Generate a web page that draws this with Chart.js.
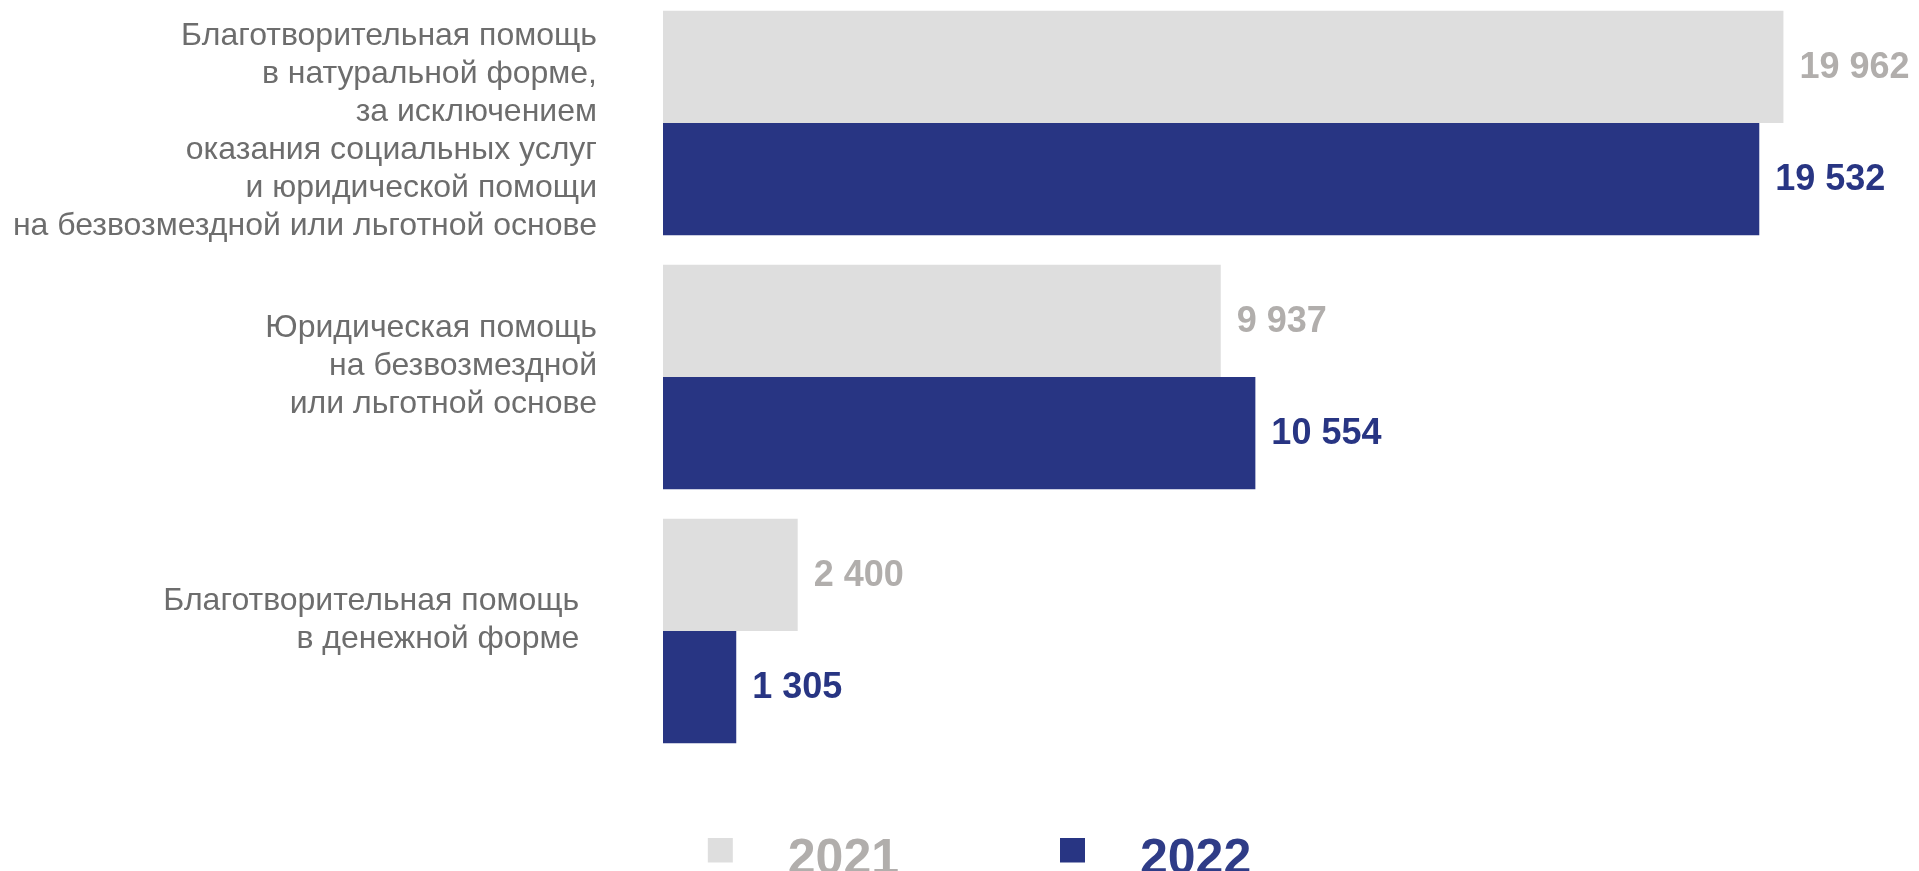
<!DOCTYPE html>
<html lang="ru">
<head>
    <meta charset="UTF-8">
    <title>Благотворительная помощь 2021–2022</title>
    <script src="https://cdn.jsdelivr.net/npm/chart.js@4.4.0/dist/chart.umd.min.js"></script>
    <style>
        html, body{
            margin: 0;
            padding: 0;
            background: #ffffff;
            overflow: hidden;
        }
        .chart-box{
            position: absolute;
            left: 0;
            top: -4px;
            width: 1919px;
            height: 899px;
        }
    </style>
</head>
<body>
    <div class="chart-box">
        <canvas id="chart"></canvas>
    </div>

    <script>
        // categories (multi-line labels, as in the original)
        const categories = [
            ['Благотворительная помощь', 'в натуральной форме,', 'за исключением', 'оказания социальных услуг', 'и юридической помощи', 'на безвозмездной или льготной основе'],
            ['Юридическая помощь', 'на безвозмездной', 'или льготной основе', ''],
            ['Благотворительная помощь\u00a0\u00a0', 'в денежной форме\u00a0\u00a0', '']
        ];
        const years = ['2021', '2022'];
        const values2021 = [19962, 9937, 2400];
        const values2022 = [19532, 10554, 1305];

        const barColors = ['#dedede', '#283583'];
        const valueColors = ['#b1aeac', '#283583'];
        const legendColors = ['#b1aeac', '#2f3c87'];
        const FONT = "'Liberation Sans', Arial, sans-serif";

        function numberWithSpaces(x) {
            return x.toString().replace(/\B(?=(\d{3})+(?!\d))/g, ' ');
        }

        // legend marker: square placed right/up inside a wider transparent box,
        // so its gap to the year text and its height match the original
        function legendMark(color) {
            const c = document.createElement('canvas');
            c.width = 206;
            c.height = 45;
            const g = c.getContext('2d');
            g.fillStyle = color;
            g.fillRect(151, 0, 25, 25);
            return c;
        }
        const marks = barColors.map(legendMark);

        // numbers at the end of each bar
        const valueLabels = {
            id: 'valueLabels',
            afterDatasetsDraw(chart) {
                const ctx = chart.ctx;
                ctx.save();
                ctx.font = 'bold 36px ' + FONT;
                ctx.textBaseline = 'middle';
                ctx.textAlign = 'left';
                chart.data.datasets.forEach((ds, i) => {
                    chart.getDatasetMeta(i).data.forEach((bar, j) => {
                        ctx.fillStyle = valueColors[i];
                        ctx.fillText(numberWithSpaces(ds.data[j]), bar.x + 16, bar.y + 1);
                    });
                });
                ctx.restore();
            }
        };

        const ctx = document.getElementById('chart').getContext('2d');
        const chart = new Chart(ctx, {
            type: 'bar',
            data: {
                labels: categories,
                datasets: [
                    {
                        label: years[0],
                        data: values2021,
                        backgroundColor: barColors[0],
                        borderWidth: 0
                    },
                    {
                        label: years[1],
                        data: values2022,
                        backgroundColor: barColors[1],
                        borderWidth: 0
                    }
                ]
            },
            options: {
                indexAxis: 'y',
                responsive: true,
                maintainAspectRatio: false,
                devicePixelRatio: 1,
                animation: false,
                categoryPercentage: 0.883,
                barPercentage: 1,
                layout: {
                    padding: {left: 0, right: 111, top: 0, bottom: 0}
                },
                scales: {
                    x: {
                        min: 0,
                        max: 20400,
                        grid: {display: false, drawTicks: false},
                        border: {display: false},
                        ticks: {display: false},
                        afterFit: (s) => {
                            s.height = 67;
                            s.paddingLeft = 0;
                            s.paddingRight = 0;
                        }
                    },
                    y: {
                        grid: {display: false, drawTicks: false},
                        border: {display: false},
                        ticks: {
                            autoSkip: false,
                            padding: 66,
                            labelOffset: 8,
                            color: '#6d6d6d',
                            font: {family: FONT, size: 32, lineHeight: 1.19}
                        },
                        afterFit: (s) => {
                            s.width = 663;
                            // labels sit inside their band, no extra room needed above/below
                            s.paddingTop = 0;
                            s.paddingBottom = 0;
                        }
                    }
                },
                plugins: {
                    tooltip: {enabled: false},
                    legend: {
                        position: 'bottom',
                        labels: {
                            usePointStyle: true,
                            pointStyleWidth: 206,
                            padding: 10,
                            font: {family: FONT, size: 50, weight: 'bold'},
                            generateLabels(chart) {
                                const items = Chart.defaults.plugins.legend.labels.generateLabels(chart);
                                items.forEach((it, i) => {
                                    it.fontColor = legendColors[i];
                                    it.pointStyle = marks[i];
                                });
                                return items;
                            }
                        }
                    }
                }
            },
            plugins: [valueLabels]
        });
    </script>
</body>
</html>
